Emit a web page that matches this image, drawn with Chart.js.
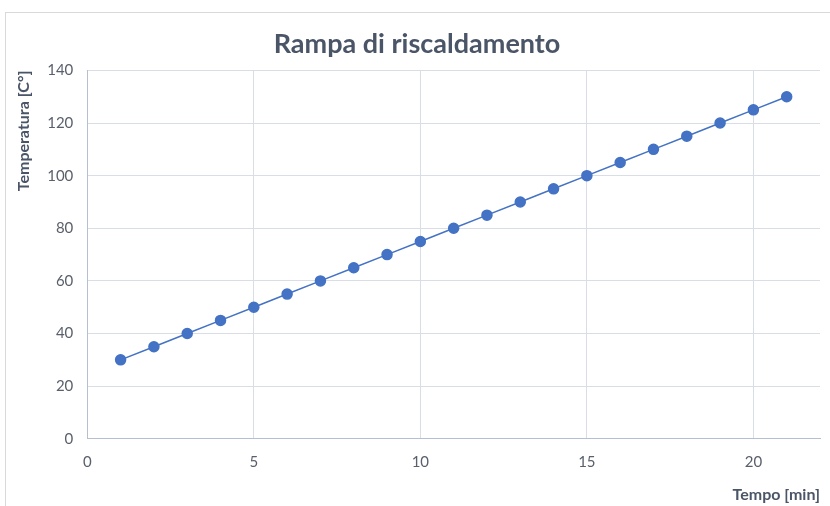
<!DOCTYPE html>
<html>
<head>
<meta charset="utf-8">
<script src="https://cdn.jsdelivr.net/npm/chart.js@4/dist/chart.umd.min.js"></script>
<style>
  html, body { margin: 0; padding: 0; background: #ffffff; }
  #wrap { position: relative; width: 830px; height: 506px; overflow: hidden; }
  #frame { position: absolute; left: 5px; top: 12px; width: 900px; height: 600px; border: 1px solid #d9d9d9; box-sizing: border-box; }
  #chart { position: absolute; left: 0; top: 0; }
</style>
</head>
<body>
<div id="wrap">
  <div id="frame"></div>
  <canvas id="chart" width="830" height="506"></canvas>
</div>
<script>
const minutes = [1, 2, 3, 4, 5, 6, 7, 8, 9, 10, 11, 12, 13, 14, 15, 16, 17, 18, 19, 20, 21];
const temperatures = [30, 35, 40, 45, 50, 55, 60, 65, 70, 75, 80, 85, 90, 95, 100, 105, 110, 115, 120, 125, 130];
const xTicks = [0, 5, 10, 15, 20];
const yTicks = [0, 20, 40, 60, 80, 100, 120, 140];

const FONT = "Lato, 'Open Sans', sans-serif";
const textColor = "#595f6b";
const gridColor = "#d9dde6";

const points = minutes.map((m, i) => ({ x: m, y: temperatures[i] }));

new Chart(document.getElementById("chart"), {
  type: "scatter",
  data: {
    datasets: [{
      label: "Temperatura",
      data: points,
      showLine: true,
      borderColor: "#4472c4",
      backgroundColor: "#4472c4",
      borderWidth: 1.5,
      pointRadius: 5,
      pointHoverRadius: 5,
    }],
  },
  options: {
    responsive: false,
    animation: false,
    layout: { padding: { left: 14, right: 10, top: 0, bottom: 2 } },
    plugins: {
      legend: { display: false },
      tooltip: { enabled: false },
      title: {
        display: true,
        text: "Rampa di riscaldamento",
        color: "#4a5567",
        font: { family: FONT, size: 27, weight: "bold" },
        padding: { top: 28, bottom: 10 },
      },
    },
    scales: {
      x: {
        type: "linear",
        min: 0,
        max: 22,
        afterBuildTicks: (scale) => {
          scale.ticks = xTicks.map((v) => ({ value: v }));
        },
        grid: { color: gridColor, drawTicks: false },
        border: { color: "#b4bfd0" },
        ticks: { color: textColor, font: { family: FONT, size: 15 }, padding: 14 },
        title: {
          display: true,
          text: "Tempo [min]",
          align: "end",
          color: "#4a5567",
          font: { family: FONT, size: 16, weight: "bold" },
          padding: { top: 0, bottom: 0 },
        },
      },
      y: {
        min: 0,
        max: 140,
        afterBuildTicks: (scale) => {
          scale.ticks = yTicks.map((v) => ({ value: v }));
        },
        grid: { color: gridColor, drawTicks: false },
        border: { color: "#b4bfd0" },
        ticks: { color: textColor, font: { family: FONT, size: 15 }, padding: 14 },
        title: {
          display: true,
          text: "Temperatura [C°]",
          align: "end",
          color: "#4a5567",
          font: { family: FONT, size: 16, weight: "bold" },
          padding: { top: 0, bottom: 0 },
        },
      },
    },
  },
});
</script>
</body>
</html>
